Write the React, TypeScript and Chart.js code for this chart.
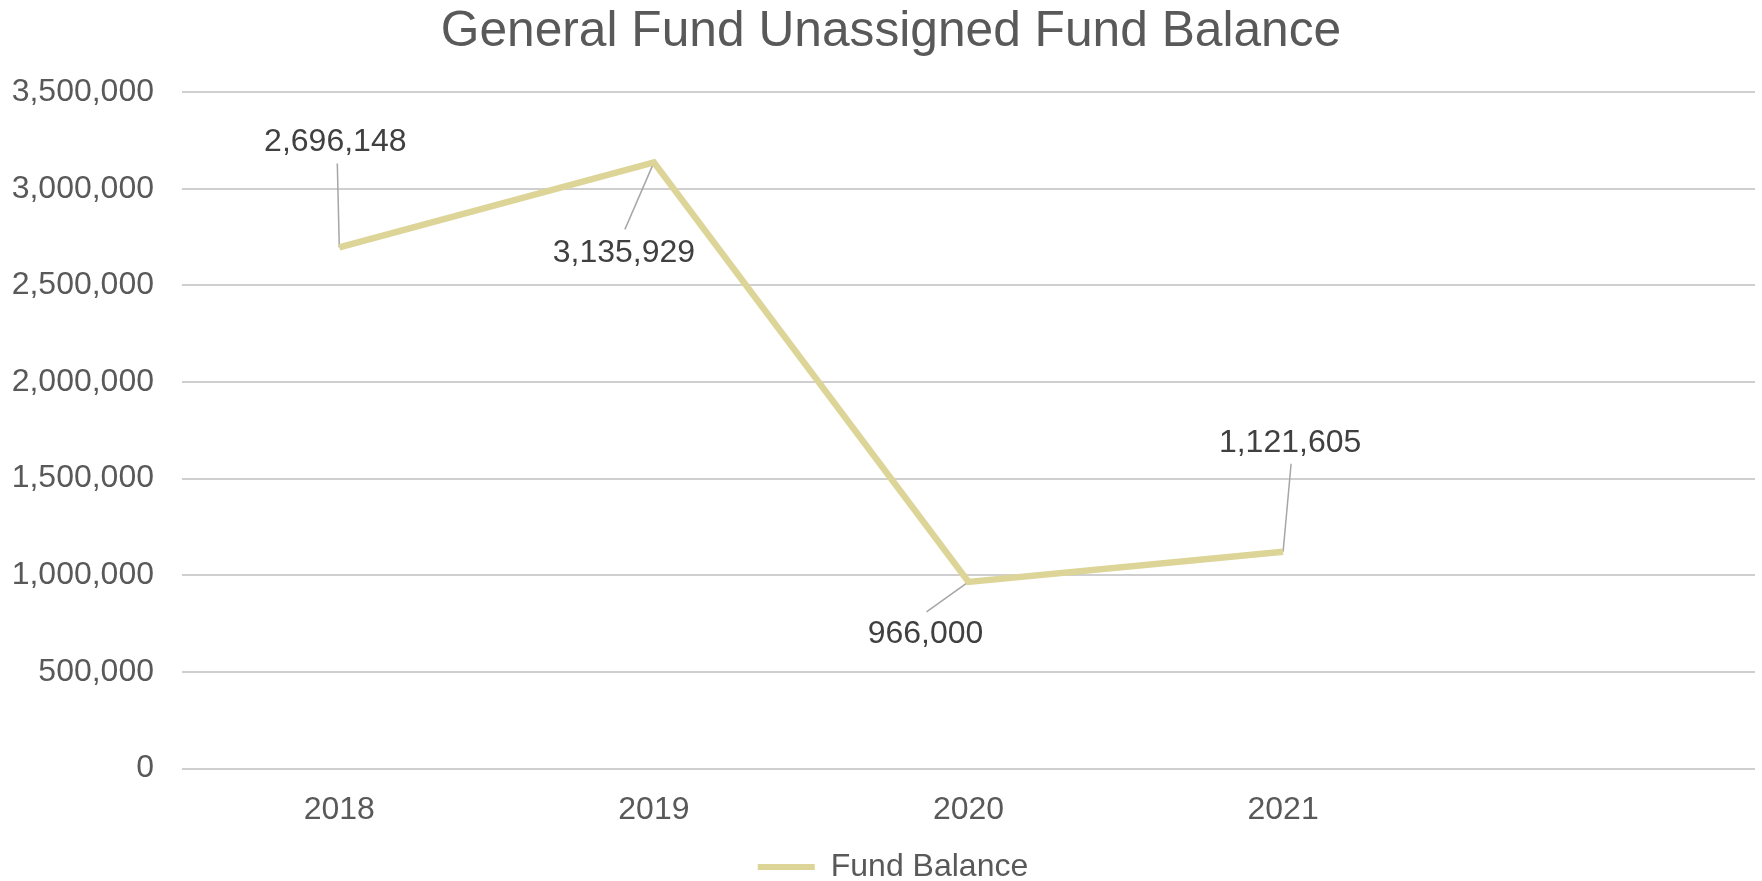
import React, { useEffect, useRef } from "react";
import { Chart, registerables } from "chart.js";

Chart.register(...registerables);

// ---- data ----
const titleText = "General Fund Unassigned Fund Balance";
const seriesLabel = "Fund Balance";
const categories = ["2018", "2019", "2020", "2021", ""];
const fundBalance: (number | null)[] = [2696148, 3135929, 966000, 1121605, null];
const yMin = 0;
const yMax = 3500000;
const yStep = 500000;

// ---- label placement (offsets from each point, px) ----
const labelOffsets = [
  { dx: -4, dy: -105, lx: -2, ly: -84 },
  { dx: -30, dy: 91, lx: -29, ly: 67 },
  { dx: -43, dy: 52, lx: -42, ly: 30 },
  { dx: 7, dy: -109, lx: 8, ly: -88 },
];

const FONT = "'Liberation Sans', Arial, Helvetica, sans-serif";
const lineColor = "#DDD498";
const textColor = "#595959";
const labelColor = "#404040";
const gridColor = "#CFCFCF";
const leaderColor = "#A6A6A6";
const TITLE_SHIFT = 13.5;
const LEGEND_SHIFT = 15.5;

const fmt = (v: number) => v.toLocaleString("en-US");

const shiftPlugin = {
  id: "shiftBoxes",
  afterLayout(chart: any) {
    const t = chart.titleBlock;
    if (t) {
      t.left += TITLE_SHIFT;
      t.right += TITLE_SHIFT;
    }
    const l = chart.legend;
    if (l) {
      l.left += LEGEND_SHIFT;
      l.right += LEGEND_SHIFT;
    }
  },
};

const leaderPlugin = {
  id: "leaderLines",
  beforeDatasetsDraw(chart: any) {
    const meta = chart.getDatasetMeta(0);
    const ctx = chart.ctx;
    ctx.save();
    ctx.strokeStyle = leaderColor;
    ctx.lineWidth = 1.5;
    meta.data.forEach((pt: any, i: number) => {
      const v = fundBalance[i];
      const o = labelOffsets[i];
      if (v == null || !o) return;
      ctx.beginPath();
      ctx.moveTo(pt.x, pt.y);
      ctx.lineTo(pt.x + o.lx, pt.y + o.ly);
      ctx.stroke();
    });
    ctx.restore();
  },
  afterDatasetsDraw(chart: any) {
    const meta = chart.getDatasetMeta(0);
    const ctx = chart.ctx;
    ctx.save();
    ctx.fillStyle = labelColor;
    ctx.font = `32px ${FONT}`;
    ctx.textAlign = "center";
    ctx.textBaseline = "middle";
    meta.data.forEach((pt: any, i: number) => {
      const v = fundBalance[i];
      const o = labelOffsets[i];
      if (v == null || !o) return;
      ctx.fillText(fmt(v), pt.x + o.dx, pt.y + o.dy);
    });
    ctx.restore();
  },
};

export default function App() {
  const ref = useRef<HTMLCanvasElement | null>(null);

  useEffect(() => {
    if (!ref.current) return;
    const chart = new Chart(ref.current, {
      type: "line",
      data: {
        labels: categories,
        datasets: [
          {
            label: seriesLabel,
            data: fundBalance,
            borderColor: lineColor,
            backgroundColor: lineColor,
            borderWidth: 6.5,
            pointRadius: 0,
            pointHoverRadius: 0,
            tension: 0,
            fill: false,
            borderJoinStyle: "miter",
          },
        ],
      },
      options: {
        animation: false,
        responsive: true,
        maintainAspectRatio: false,
        events: [],
        layout: { padding: { left: 0, right: 7, top: 0, bottom: -12 } },
        plugins: {
          tooltip: { enabled: false },
          title: {
            display: true,
            text: titleText,
            color: textColor,
            font: { family: FONT, size: 49.7, weight: "normal" },
            padding: { top: 2.6, bottom: 29.8 },
          },
          legend: {
            display: true,
            position: "bottom",
            labels: {
              color: textColor,
              font: { family: FONT, size: 32 },
              boxWidth: 57,
              boxHeight: 6,
              padding: 0,
              generateLabels: (c: any) =>
                Chart.defaults.plugins.legend.labels
                  .generateLabels(c)
                  .map((l: any) => ({ ...l, lineWidth: 0, fillStyle: lineColor })),
            },
          },
        },
        scales: {
          x: {
            type: "category",
            offset: true,
            grid: { display: false, drawTicks: false },
            border: { display: false },
            ticks: {
              color: textColor,
              font: { family: FONT, size: 32 },
              padding: 22,
              maxRotation: 0,
              autoSkip: false,
            },
          },
          y: {
            min: yMin,
            max: yMax,
            grid: { color: gridColor, lineWidth: 2, drawTicks: false },
            border: { display: false },
            ticks: {
              stepSize: yStep,
              color: textColor,
              font: { family: FONT, size: 32 },
              padding: 28,
              callback: (v: any) => fmt(Number(v)),
            },
            afterFit: (s: any) => {
              s.width = 182;
            },
          },
        },
      },
      plugins: [leaderPlugin, shiftPlugin],
    });
    return () => chart.destroy();
  }, []);

  return (
    <div style={{ position: "fixed", left: 0, top: 0, width: 1762, height: 881, background: "#fff" }}>
      <canvas ref={ref} />
    </div>
  );
}
